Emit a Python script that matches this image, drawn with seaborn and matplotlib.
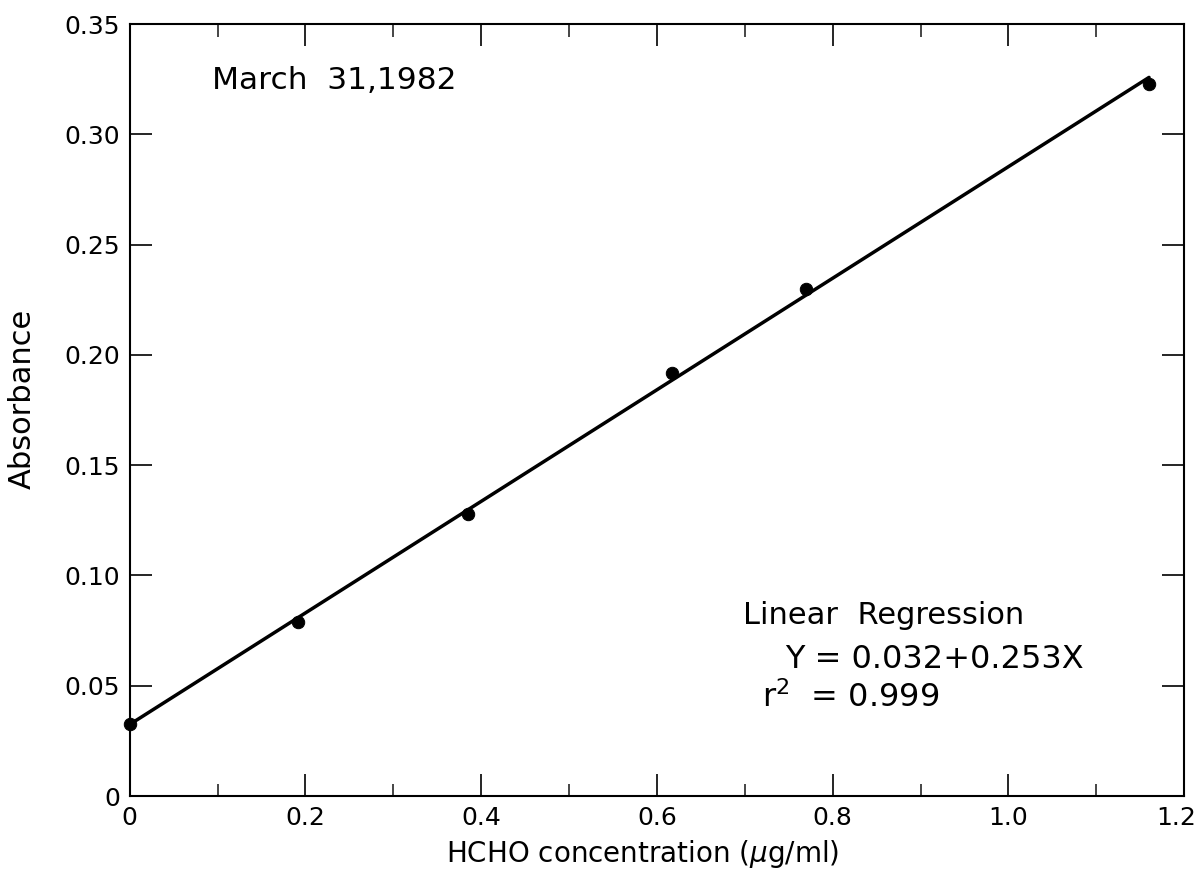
#!/usr/bin/env python3
"""
Calibration curve: absorbance vs HCHO concentration (March 31, 1982).
"""

import matplotlib
matplotlib.use("Agg")
import matplotlib.pyplot as plt
import matplotlib.transforms as mtransforms
import seaborn as sns
import pandas as pd

# Values
concentration = [0.0, 0.191, 0.385, 0.617, 0.770, 1.160]
absorbance = [0.0326, 0.0789, 0.128, 0.192, 0.230, 0.323]

x_ticks = [0, 0.2, 0.4, 0.6, 0.8, 1.0, 1.2]
x_tick_labels = ["0", "0.2", "0.4", "0.6", "0.8", "1.0", "1.2"]
x_minor = [0.1, 0.3, 0.5, 0.7, 0.9, 1.1]
y_ticks = [0, 0.05, 0.10, 0.15, 0.20, 0.25, 0.30, 0.35]
y_tick_labels = ["0", "0.05", "0.10", "0.15", "0.20", "0.25", "0.30", "0.35"]

date_text = "March  31,1982"
regression_lines = ["Linear  Regression", "Y = 0.032+0.253X", "r$^2$  = 0.999"]

df = pd.DataFrame({"conc": concentration, "abs": absorbance})

sns.set_theme(style="ticks")
plt.rcParams["font.family"] = ["DejaVu Sans"]
plt.rcParams["mathtext.fontset"] = "dejavusans"
plt.rcParams["text.color"] = "black"
plt.rcParams["axes.labelcolor"] = "black"

fig = plt.figure(figsize=(12.01, 8.92), dpi=100)
ax = fig.add_axes([0.108, 0.1076, 0.878, 0.8654])

# Fit line through the points, then the points themselves
sns.regplot(data=df, x="conc", y="abs", ci=None, truncate=True, scatter=False,
            color="black", line_kws={"linewidth": 2.5}, ax=ax)
sns.scatterplot(data=df, x="conc", y="abs", color="black", s=80,
                edgecolor="black", zorder=3, clip_on=False, ax=ax)

ax.set_xlim(0, 1.2)
ax.set_ylim(0, 0.35)
ax.set_xticks(x_ticks)
ax.set_xticklabels(x_tick_labels)
ax.set_xticks(x_minor, minor=True)
ax.set_yticks(y_ticks)
ax.set_yticklabels(y_tick_labels)

ax.tick_params(axis="both", which="major", direction="in", length=16, width=1.2,
               top=True, right=True, labelsize=18, pad=7, colors="black")
ax.tick_params(axis="x", which="minor", direction="in", length=9, width=1.2,
               top=True, bottom=True)
for side in ax.spines.values():
    side.set_linewidth(1.5)
    side.set_color("black")

# last x label sits against the figure edge; nudge it left a little
last = ax.get_xticklabels()[-1]
last.set_transform(last.get_transform()
                   + mtransforms.ScaledTranslation(-6 / 72, 0, fig.dpi_scale_trans))

ax.set_xlabel("HCHO concentration ($\\mu$g/ml)", fontsize=20)
ax.set_ylabel("Absorbance", fontsize=22)
ax.xaxis.set_label_coords(0.486, -0.055)
ax.yaxis.set_label_coords(-0.088, 0.514)

ax.text(0.094, 0.3246, date_text, fontsize=22.5, va="center", ha="left")
ax.text(0.698, 0.082, regression_lines[0], fontsize=22, va="center", ha="left")
ax.text(0.746, 0.0617, regression_lines[1], fontsize=23, va="center", ha="left")
ax.text(0.720, 0.0444, regression_lines[2], fontsize=23, va="center", ha="left")

fig.savefig("out.png", dpi=100)
plt.close(fig)
